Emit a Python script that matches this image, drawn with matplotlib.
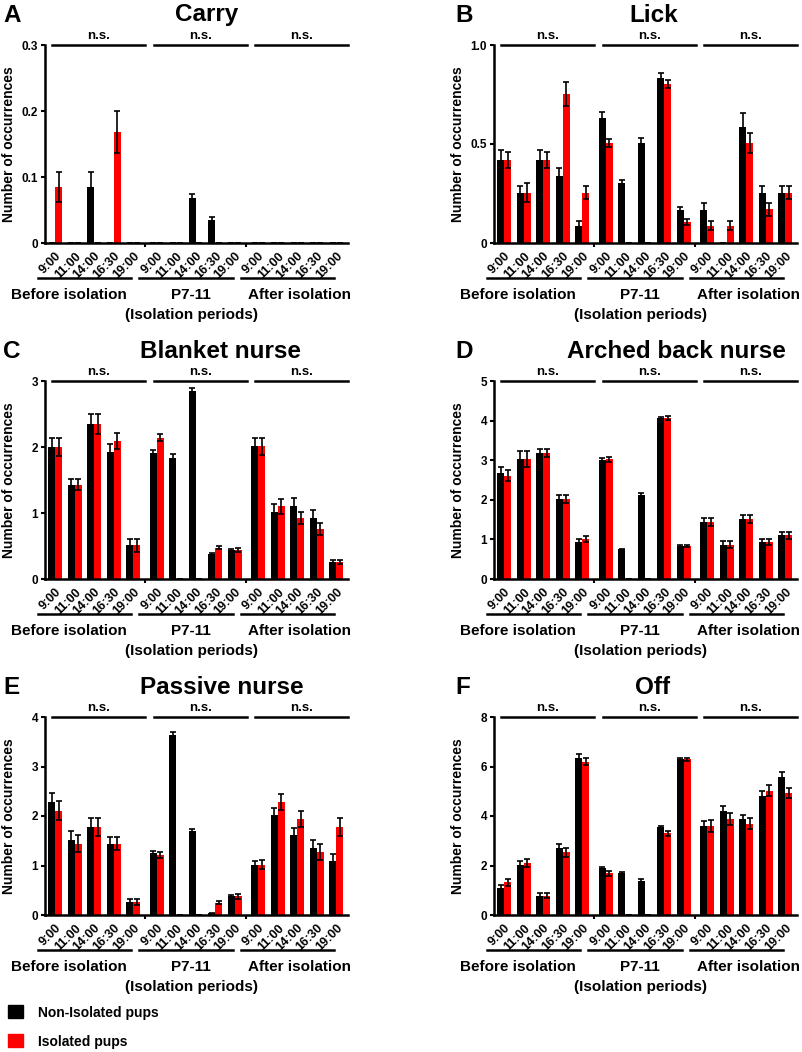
import matplotlib
matplotlib.use("Agg")
from matplotlib import pyplot as plt
from matplotlib.patches import Rectangle
import numpy as np

plt.rcParams['font.family'] = ['Liberation Sans', 'DejaVu Sans']
plt.rcParams['font.weight'] = 'bold'

times = ['9:00', '11:00', '14:00', '16:30', '19:00']
periods = ['Before isolation', 'P7-11', 'After isolation']

# values per panel: 15 groups (3 periods x 5 times)
carry_non = [0, 0, 0.085, 0, 0,   0, 0, 0.068, 0.035, 0,   0, 0, 0, 0, 0]
carry_non_err = [0, 0, 0.023, 0, 0,   0, 0, 0.007, 0.005, 0,   0, 0, 0, 0, 0]
carry_iso = [0.085, 0, 0, 0.168, 0,   0, 0, 0, 0, 0,   0, 0, 0, 0, 0]
carry_iso_err = [0.023, 0, 0, 0.032, 0,   0, 0, 0, 0, 0,   0, 0, 0, 0, 0]

lick_non = [0.42, 0.255, 0.42, 0.337, 0.088,   0.632, 0.304, 0.503, 0.835, 0.169,   0.165, 0, 0.587, 0.255, 0.255]
lick_non_err = [0.05, 0.034, 0.05, 0.04, 0.022,   0.028, 0.013, 0.025, 0.025, 0.013,   0.037, 0, 0.072, 0.034, 0.034]
lick_iso = [0.42, 0.255, 0.42, 0.754, 0.255,   0.503, 0, 0, 0.804, 0.106,   0.088, 0.088, 0.506, 0.17, 0.255]
lick_iso_err = [0.04, 0.05, 0.04, 0.06, 0.034,   0.02, 0, 0, 0.02, 0.013,   0.022, 0.022, 0.052, 0.032, 0.034]

blanket_non = [2.0, 1.43, 2.35, 1.93, 0.51,   1.91, 1.84, 2.85, 0.38, 0.44,   2.01, 1.02, 1.1, 0.93, 0.26]
blanket_non_err = [0.14, 0.09, 0.15, 0.12, 0.1,   0.04, 0.06, 0.05, 0.015, 0.02,   0.12, 0.12, 0.13, 0.12, 0.035]
blanket_iso = [2.0, 1.43, 2.35, 2.09, 0.51,   2.14, 0, 0, 0.475, 0.44,   2.01, 1.1, 0.93, 0.76, 0.26]
blanket_iso_err = [0.14, 0.08, 0.15, 0.12, 0.1,   0.05, 0, 0, 0.02, 0.03,   0.13, 0.11, 0.09, 0.09, 0.035]

arched_non = [2.68, 3.03, 3.19, 2.02, 0.94,   3.0, 0.75, 2.13, 4.06, 0.84,   1.44, 0.87, 1.52, 0.94, 1.1]
arched_non_err = [0.15, 0.19, 0.1, 0.1, 0.06,   0.06, 0.02, 0.03, 0.04, 0.02,   0.1, 0.08, 0.1, 0.08, 0.08]
arched_iso = [2.61, 3.03, 3.19, 2.02, 1.01,   3.02, 0, 0, 4.06, 0.84,   1.44, 0.87, 1.52, 0.94, 1.1]
arched_iso_err = [0.13, 0.19, 0.1, 0.1, 0.08,   0.06, 0, 0, 0.05, 0.03,   0.1, 0.08, 0.1, 0.08, 0.08]

passive_non = [2.28, 1.52, 1.78, 1.44, 0.27,   1.25, 3.63, 1.69, 0.04, 0.38,   1.02, 2.03, 1.61, 1.35, 1.1]
passive_non_err = [0.18, 0.17, 0.18, 0.13, 0.06,   0.05, 0.06, 0.05, 0.01, 0.03,   0.08, 0.14, 0.15, 0.17, 0.13]
passive_iso = [2.11, 1.44, 1.78, 1.44, 0.27,   1.22, 0, 0, 0.25, 0.38,   1.02, 2.28, 1.94, 1.27, 1.78]
passive_iso_err = [0.2, 0.17, 0.18, 0.13, 0.06,   0.06, 0, 0, 0.03, 0.05,   0.09, 0.16, 0.16, 0.16, 0.18]

off_non = [1.1, 2.03, 0.78, 2.71, 6.33,   1.9, 1.7, 1.39, 3.54, 6.3,   3.6, 4.19, 3.87, 4.8, 5.58]
off_non_err = [0.1, 0.17, 0.1, 0.16, 0.16,   0.05, 0.05, 0.05, 0.05, 0.04,   0.2, 0.23, 0.19, 0.19, 0.19]
off_iso = [1.33, 2.11, 0.78, 2.53, 6.2,   1.68, 0, 0, 3.3, 6.3,   3.6, 3.88, 3.69, 5.02, 4.94]
off_iso_err = [0.14, 0.17, 0.1, 0.19, 0.15,   0.09, 0, 0, 0.09, 0.06,   0.23, 0.24, 0.21, 0.22, 0.2]

panels = [
    ('A', 'Carry', carry_non, carry_non_err, carry_iso, carry_iso_err, [0, 0.1, 0.2, 0.3], ['0', '0.1', '0.2', '0.3']),
    ('B', 'Lick', lick_non, lick_non_err, lick_iso, lick_iso_err, [0, 0.5, 1.0], ['0', '0.5', '1.0']),
    ('C', 'Blanket nurse', blanket_non, blanket_non_err, blanket_iso, blanket_iso_err, [0, 1, 2, 3], ['0', '1', '2', '3']),
    ('D', 'Arched back nurse', arched_non, arched_non_err, arched_iso, arched_iso_err, [0, 1, 2, 3, 4, 5], ['0', '1', '2', '3', '4', '5']),
    ('E', 'Passive nurse', passive_non, passive_non_err, passive_iso, passive_iso_err, [0, 1, 2, 3, 4], ['0', '1', '2', '3', '4']),
    ('F', 'Off', off_non, off_non_err, off_iso, off_iso_err, [0, 2, 4, 6, 8], ['0', '2', '4', '6', '8']),
]

W, H = 802, 1052
fig = plt.figure(figsize=(W / 100, H / 100), dpi=100)

lefts = [45, 494]
tops = [45, 381, 717]
ax_w, ax_h = 303, 198
title_x = [207, 654, 220, 676, 222, 653]

gap = 5.2
x = np.array([t + p * gap for p in range(3) for t in range(5)])
bw = 0.36
err_kw = dict(ecolor='black', elinewidth=1.2, capsize=2, capthick=1.2)

for i, (letter, title, non, non_e, iso, iso_e, yt, ytl) in enumerate(panels):
    col, row = i % 2, i // 2
    l, t = lefts[col], tops[row]
    ax = fig.add_axes([l / W, 1 - (t + ax_h) / H, ax_w / W, ax_h / H])
    ax.bar(x - bw / 2, non, bw, color='black', yerr=non_e, error_kw=err_kw, zorder=2)
    ax.bar(x + bw / 2, iso, bw, color='#ff0000', yerr=iso_e, error_kw=err_kw, zorder=2)
    ymax = yt[-1]
    ax.set_ylim(0, ymax)
    ax.set_xlim(-0.52, 15.0)
    ax.spines['top'].set_visible(False)
    ax.spines['right'].set_visible(False)
    ax.spines['left'].set_linewidth(1.8)
    ax.spines['bottom'].set_linewidth(1.8)
    ax.set_yticks(yt)
    ax.set_yticklabels(ytl, fontsize=8.5, fontweight='bold')
    ax.tick_params(axis='y', length=3, width=1.5, pad=2)
    ax.set_xticks(x)
    ax.set_xticklabels(times * 3, fontsize=9, fontweight='bold', rotation=45,
                       ha='right', va='top', rotation_mode='anchor')
    ax.tick_params(axis='x', length=0, pad=5)
    ax.set_xticks([4.6, 9.8], minor=True)
    ax.tick_params(axis='x', which='minor', length=3, width=1.5)
    ax.set_ylabel('Number of occurrences', fontsize=10, fontweight='bold')
    ax.yaxis.set_label_coords(-36 / ax_w, 0.5)
    ax.yaxis.label.set_verticalalignment('center')

    trans = ax.get_xaxis_transform()
    for p in range(3):
        x0 = p * gap
        ax.plot([x0 - 0.14, x0 + 4.62], [1, 1], color='black', lw=1.8,
                transform=trans, clip_on=False)
        ax.text(x0 + 2.24, 1 + 3 / ax_h, 'n.s.', transform=trans, ha='center',
                va='bottom', fontsize=9.5, fontweight='bold')
        ax.plot([x0 - 0.88, x0 + 3.9], [-35 / ax_h, -35 / ax_h], color='black',
                lw=1.8, transform=trans, clip_on=False)
    for name, cx in zip(periods, [0.7, 6.95, 12.5]):
        ax.text(cx, -52 / ax_h, name, transform=trans, ha='center', va='center',
                fontsize=11, fontweight='bold')
    ax.text(6.97, -72 / ax_h, '(Isolation periods)', transform=trans, ha='center',
            va='center', fontsize=11, fontweight='bold')

    fig.text(title_x[i] / W, 1 - (t - 30) / H, title, ha='center', va='center',
             fontsize=17.5, fontweight='bold')
    fig.text((3 + col * 452) / W, 1 - (t - 30) / H, letter, ha='left', va='center',
             fontsize=17.5, fontweight='bold')

# legend
fig.patches.append(Rectangle((8 / W, 1 - 1018 / H), 15 / W, 13 / H, color='black',
                             transform=fig.transFigure, figure=fig))
fig.patches.append(Rectangle((8 / W, 1 - 1047 / H), 15 / W, 13 / H, color='#ff0000',
                             transform=fig.transFigure, figure=fig))
fig.text(38 / W, 1 - 1013 / H, 'Non-Isolated pups', ha='left', va='center',
         fontsize=10, fontweight='bold')
fig.text(38 / W, 1 - 1042 / H, 'Isolated pups', ha='left', va='center',
         fontsize=10, fontweight='bold')

fig.savefig('out.png', dpi=100)
